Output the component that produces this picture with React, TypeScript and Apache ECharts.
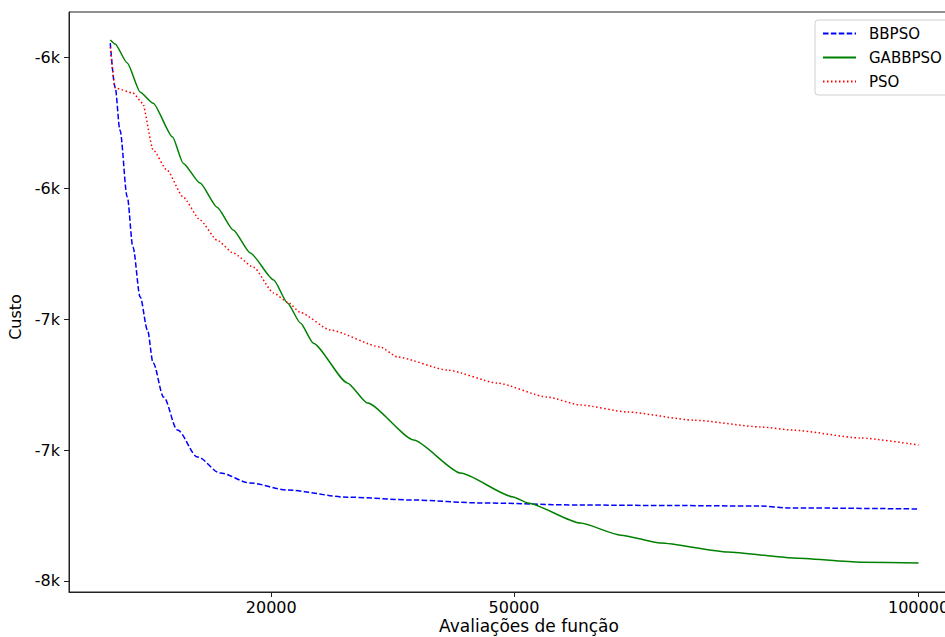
import React, { useEffect, useRef } from "react";
import * as echarts from "echarts";

const seriesNames = ["BBPSO", "GABBPSO", "PSO"];

const bbpsoX = [100, 700, 1300, 2200, 2900, 3800, 4700, 5400, 6700, 8400, 10900, 13700, 17400, 22000, 29400, 37600, 45800, 58200, 70000, 80500, 83800, 100000];
const bbpsoY = [-5697, -5865, -6029, -6284, -6475, -6666, -6792, -6918, -7048, -7174, -7277, -7338, -7376, -7403, -7430, -7441, -7452, -7460, -7462, -7464, -7471, -7475];

const gabbpsoX = [100, 700, 2200, 3800, 5400, 7800, 9100, 11200, 13300, 15300, 17400, 20300, 22000, 23600, 25200, 29400, 31900, 37600, 43400, 49900, 51700, 58200, 63200, 68100, 76400, 84500, 92800, 100000];
const gabbpsoY = [-5685, -5700, -5773, -5884, -5926, -6055, -6155, -6231, -6323, -6410, -6498, -6601, -6689, -6765, -6842, -6994, -7071, -7212, -7338, -7429, -7452, -7529, -7575, -7605, -7639, -7662, -7678, -7681];

const psoX = [100, 700, 2900, 4100, 5400, 7100, 9100, 11200, 13300, 15300, 17800, 20300, 22000, 23600, 27300, 33500, 35600, 41800, 47900, 54100, 58200, 64000, 72200, 80500, 84500, 92800, 100000];
const psoY = [-5712, -5868, -5887, -5926, -6105, -6181, -6284, -6372, -6449, -6498, -6552, -6651, -6685, -6725, -6792, -6857, -6895, -6945, -6994, -7048, -7078, -7105, -7136, -7162, -7174, -7204, -7231];

const xTicks = [20000, 50000, 100000];
const yTicks = [-7750, -7250, -6750, -6250, -5750];

const zip = (xs: number[], ys: number[]) => xs.map((x, i) => [x, ys[i]]);

export default function App() {
  const ref = useRef<HTMLDivElement>(null);
  useEffect(() => {
    if (!ref.current) return;
    const chart = echarts.init(ref.current, null, { renderer: "svg" });
    const font = "DejaVu Sans";
    chart.setOption({
      animation: false,
      backgroundColor: "#fff",
      textStyle: { fontFamily: font },
      grid: {
        left: 69,
        top: 12,
        right: -14,
        bottom: 45,
        show: true,
        borderColor: "#222",
        borderWidth: 1,
        containLabel: false,
        outerBoundsMode: "none",
      },
      legend: {
        data: seriesNames,
        orient: "vertical",
        left: 815,
        top: 20,
        padding: [6, 7, 6, 7],
        itemWidth: 33,
        itemHeight: 14,
        itemGap: 9,
        borderColor: "#d0d0d0",
        borderWidth: 1,
        borderRadius: 3,
        backgroundColor: "#fff",
        itemStyle: { opacity: 0, borderWidth: 0 },
        textStyle: { fontFamily: font, fontSize: 15, color: "#000", padding: [0, 0, 0, 8] },
      },
      xAxis: {
        type: "value",
        min: -5000,
        max: 105000,
        name: "Avaliações de função",
        nameLocation: "middle",
        nameGap: 25,
        nameMoveOverlap: false,
        nameTextStyle: { fontFamily: font, fontSize: 17, color: "#000", padding: [0, 0, 0, 30] },
        axisLine: { show: true, onZero: false, lineStyle: { color: "#222", width: 1 } },
        axisTick: { show: true, length: 5, customValues: xTicks, lineStyle: { color: "#222" } },
        axisLabel: {
          customValues: xTicks,
          fontSize: 16,
          margin: 7,
          color: "#000",
          fontFamily: font,
          formatter: (v: number) => String(v),
        },
        splitLine: { show: false },
      },
      yAxis: {
        type: "value",
        min: -7792,
        max: -5578,
        name: "Custo",
        nameLocation: "middle",
        nameGap: 39,
        nameRotate: 90,
        nameTextStyle: { fontFamily: font, fontSize: 16, color: "#000", padding: [0, 30, 0, 0] },
        axisLine: { show: true, onZero: false, lineStyle: { color: "#222", width: 1 } },
        axisTick: { show: true, length: 5, customValues: yTicks, lineStyle: { color: "#222" } },
        axisLabel: {
          customValues: yTicks,
          fontSize: 16,
          margin: 9,
          color: "#000",
          fontFamily: font,
          formatter: (v: number) => Math.round(v / 1000) + "k",
        },
        splitLine: { show: false },
      },
      series: [
        {
          name: seriesNames[0],
          type: "line",
          data: zip(bbpsoX, bbpsoY),
          symbol: "none",
          showSymbol: false,
          smooth: 0.3,
          smoothMonotone: "x",
          color: "#0000ff",
          lineStyle: { color: "#0000ff", width: 1.5, type: [5.5, 2.4] },
        },
        {
          name: seriesNames[1],
          type: "line",
          data: zip(gabbpsoX, gabbpsoY),
          symbol: "none",
          showSymbol: false,
          smooth: 0.2,
          smoothMonotone: "x",
          color: "#008000",
          lineStyle: { color: "#008000", width: 1.5, type: "solid" },
        },
        {
          name: seriesNames[2],
          type: "line",
          data: zip(psoX, psoY),
          symbol: "none",
          showSymbol: false,
          smooth: 0.2,
          smoothMonotone: "x",
          color: "#ff0000",
          lineStyle: { color: "#ff0000", width: 1.5, type: [1.5, 2.5] },
        },
      ],
    });
    return () => chart.dispose();
  }, []);
  return (
    <div
      ref={ref}
      style={{ position: "fixed", left: 0, top: 0, width: 945, height: 637, background: "#fff" }}
    />
  );
}
